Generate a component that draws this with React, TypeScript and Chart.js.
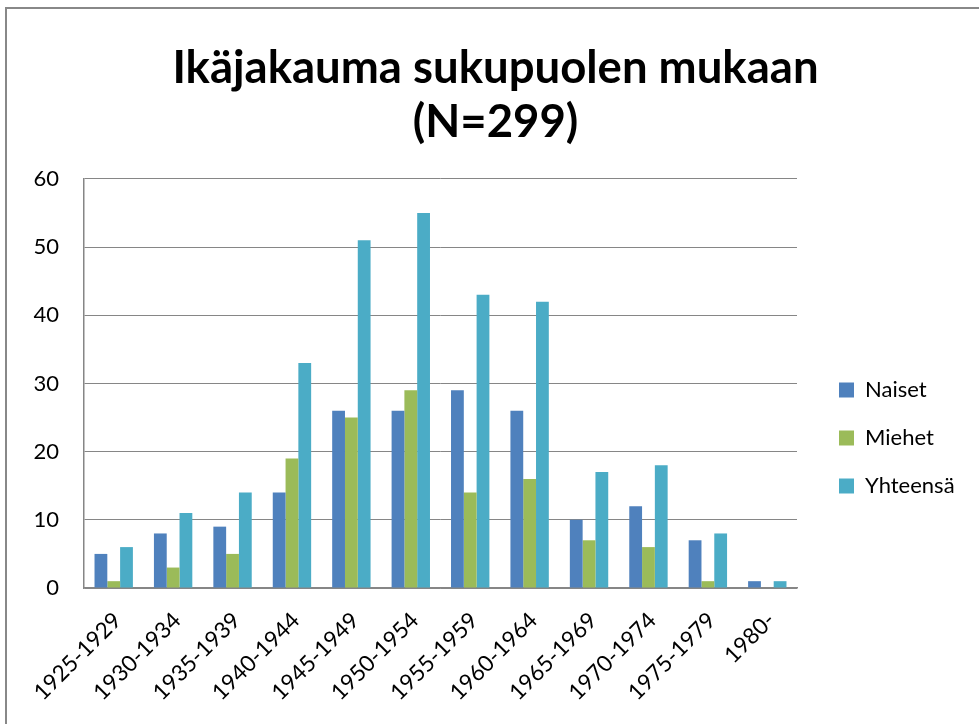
import React, { useEffect, useRef } from 'react';
import { Chart, registerables } from 'chart.js';

Chart.register(...registerables);

const categories = [
  '1925-1929', '1930-1934', '1935-1939', '1940-1944', '1945-1949', '1950-1954',
  '1955-1959', '1960-1964', '1965-1969', '1970-1974', '1975-1979', '1980-',
];
const naiset = [5, 8, 9, 14, 26, 26, 29, 26, 10, 12, 7, 1];
const miehet = [1, 3, 5, 19, 25, 29, 14, 16, 7, 6, 1, 0];
const yhteensa = [6, 11, 14, 33, 51, 55, 43, 42, 17, 18, 8, 1];
const seriesNames = ['Naiset', 'Miehet', 'Yhteensä'];
const seriesColors = ['#4F81BD', '#9BBB59', '#4BACC6'];
const titleLines = ['Ikäjakauma sukupuolen mukaan', '(N=299)'];
const yMin = 0;
const yMax = 60;
const yStep = 10;

const FONT = 'Lato, "Open Sans", sans-serif';

export default function App() {
  const ref = useRef<HTMLCanvasElement>(null);

  useEffect(() => {
    if (!ref.current) return;
    const legendPlace = {
      id: 'legendPlace',
      beforeLayout(chart: any) {
        const lg = chart.legend;
        if (lg && !lg._patched) {
          const orig = lg.fit.bind(lg);
          lg.fit = function () {
            orig();
            this.width = 182;
          };
          lg._patched = true;
        }
      },
      afterLayout(chart: any) {
        const lg = chart.legend;
        if (lg) {
          lg.left = 813;
          lg.right = 979;
          lg.top = 353;
          lg.bottom = 724;
          lg.width = lg.right - lg.left;
          lg.height = lg.bottom - lg.top;
        }
        const tb = chart.titleBlock;
        if (tb) {
          tb.left += 6;
          tb.right += 6;
        }
      },
    };

    const series = [naiset, miehet, yhteensa];
    const chart = new Chart(ref.current, {
      type: 'bar',
      data: {
        labels: categories,
        datasets: series.map((d, i) => ({
          label: seriesNames[i],
          data: d,
          backgroundColor: seriesColors[i],
          borderWidth: 0,
          categoryPercentage: 0.646,
          barPercentage: 1.0,
        })),
      },
      options: {
        responsive: false,
        devicePixelRatio: 1,
        animation: false,
        layout: { padding: { left: 0, right: 0, top: 0, bottom: 0 } },
        plugins: {
          title: {
            display: true,
            text: titleLines,
            color: '#000000',
            font: { family: FONT, size: 45.5, weight: 'bold', lineHeight: 1.17 },
            padding: { top: 42, bottom: 30.5 },
          },
          legend: {
            position: 'right',
            align: 'start',
            labels: {
              boxWidth: 15,
              boxHeight: 15,
              padding: 26,
              color: '#000000',
              font: { family: FONT, size: 22 },
            },
          },
          tooltip: { enabled: false },
        },
        scales: {
          x: {
            grid: { display: false, drawTicks: false },
            border: { display: true, color: '#868686', width: 1.5 },
            ticks: {
              autoSkip: false,
              minRotation: 45,
              maxRotation: 45,
              padding: 19,
              labelOffset: 4,
              color: '#000000',
              font: { family: FONT, size: 22.5 },
            },
            afterFit: (s: any) => {
              s.height = 136;
            },
          },
          y: {
            min: yMin,
            max: yMax,
            grid: { color: '#868686', drawTicks: false, lineWidth: 1 },
            border: { display: true, color: '#868686', width: 1.5 },
            ticks: {
              stepSize: yStep,
              padding: 25,
              color: '#000000',
              font: { family: FONT, size: 22 },
            },
            afterFit: (s: any) => {
              s.width = 84;
            },
          },
        },
      },
      plugins: [legendPlace],
    } as any);
    return () => chart.destroy();
  }, []);

  return (
    <div
      style={{
        position: 'fixed',
        left: 0,
        top: 0,
        width: 979,
        height: 724,
        overflow: 'hidden',
        background: '#ffffff',
      }}
    >
      <div
        style={{
          position: 'absolute',
          left: 5,
          top: 7,
          width: 1200,
          height: 1200,
          border: '2px solid #888888',
          boxSizing: 'border-box',
        }}
      />
      <canvas
        ref={ref}
        width={979}
        height={724}
        style={{ position: 'absolute', left: 0, top: 0, width: 979, height: 724 }}
      />
    </div>
  );
}
